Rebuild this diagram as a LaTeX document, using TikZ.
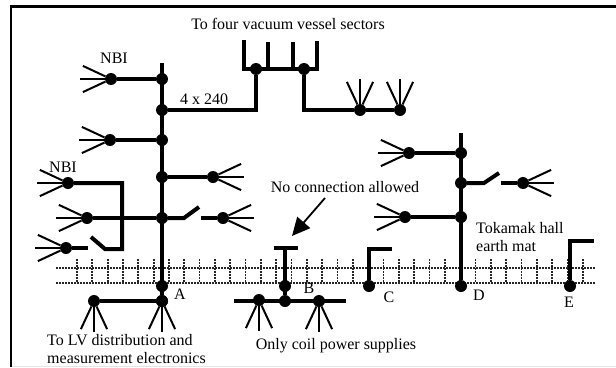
\documentclass[tikz,border=0pt]{standalone}
\usepackage{fontspec}
\setmainfont{Liberation Serif}
\usetikzlibrary{arrows.meta}
\tikzset{
	node_dot/.style = {
		circle,
		fill=black,
		inner sep=0pt,
		minimum size=12pt
	},
	node_label/.style = {
		align=left,
		inner sep=0pt,
		font=\fontsize{16}{18}\selectfont
	},
	wire_thick/.style = {
		line width=4pt,
		line cap=butt,
		line join=miter
	},
	wire_thin/.style = {
		line width=2pt
	},
	mesh_line/.style = {
		line width=1.7pt,
		dash pattern=on 1.6pt off 1.4pt,
		black!85
	},
}
\newcommand{\fan}[4]{
	\node [node_dot] (#1) at (#2,#3) {};
	\path (#1) ++(#4-25:31) coordinate (#1_a);
	\path (#1) ++(#4:31) coordinate (#1_b);
	\path (#1) ++(#4+25:31) coordinate (#1_c);
	\draw [wire_thin] (#1) -- (#1_a);
	\draw [wire_thin] (#1) -- (#1_b);
	\draw [wire_thin] (#1) -- (#1_c);
}
\begin{document}
\begin{tikzpicture}[x=1pt,y=-1pt]
\useasboundingbox (0,0) rectangle (616,367);
\draw [black!10, line width=1pt] (11,366) -- (616,366);
\draw [line width=2.2pt] (11,367) -- (11,6.5) -- (616,6.5);

\coordinate (mesh_al) at (56,268);
\coordinate (mesh_ar) at (595,268);
\coordinate (mesh_bl) at (56,283);
\coordinate (mesh_br) at (595,283);
\draw [mesh_line] (mesh_al) -- (mesh_ar);
\draw [mesh_line] (mesh_bl) -- (mesh_br);
\foreach \k in {0,...,33}
	\draw [mesh_line] ({77+15.33*\k},259) -- ({77+15.33*\k},283);

\coordinate (a_top) at (162,63);
\node [node_dot] (a1) at (162,79) {};
\node [node_dot] (a2) at (162,110) {};
\node [node_dot] (a3) at (162,140) {};
\node [node_dot] (a4) at (162,177) {};
\node [node_dot] (a5) at (162,218) {};
\node [node_dot] (a6) at (162,286) {};
\node [node_dot] (a7) at (162,301) {};
\draw [wire_thick] (a_top) -- (a7);

\fan{nbi_1}{111}{79}{180}
\fan{nbi_2}{110}{140}{180}
\fan{nbi_3}{213}{177}{0}
\fan{nbi_4}{68}{183}{180}
\fan{nbi_5}{87}{218}{180}
\fan{nbi_6}{223}{218}{0}
\fan{nbi_7}{66}{248}{180}
\draw [wire_thick] (a1) -- (nbi_1);
\draw [wire_thick] (a3) -- (nbi_2);
\draw [wire_thick] (a4) -- (nbi_3);
\draw [wire_thick] (a5) -- (nbi_5);

\coordinate (sw_a) at (184,218);
\coordinate (sw_b) at (199,207);
\coordinate (sw_c) at (201,218);
\draw [wire_thick] (a5) -- (sw_a) -- (sw_b);
\draw [wire_thick] (sw_c) -- (nbi_6);

\coordinate (sw_d) at (122,183);
\coordinate (sw_e) at (122,249);
\coordinate (sw_f) at (105,249);
\coordinate (sw_g) at (91,237);
\coordinate (sw_h) at (88,248);
\draw [wire_thick] (nbi_4) -- (sw_d) -- (sw_e) -- (sw_f) -- (sw_g);
\draw [wire_thick] (nbi_7) -- (sw_h);

\node [node_dot] (v1) at (256,69) {};
\node [node_dot] (v2) at (304,69) {};
\coordinate (v_a) at (244,40);
\coordinate (v_b) at (244,69);
\coordinate (v_c) at (268,42);
\coordinate (v_d) at (268,69);
\coordinate (v_e) at (293,42);
\coordinate (v_f) at (293,69);
\coordinate (v_g) at (317,69);
\coordinate (v_h) at (317,41);
\draw [wire_thick] (v_a) -- (v_b) -- (v_g) -- (v_h);
\draw [wire_thick] (v_c) -- (v_d);
\draw [wire_thick] (v_e) -- (v_f);
\draw [wire_thick] (a2) -| (v1);

\fan{up_1}{360}{110}{-90}
\fan{up_2}{400}{110}{-90}
\draw [wire_thick] (v2) |- (up_1);
\draw [wire_thick] (up_1) -- (up_2);

\fan{lv_1}{94}{301}{90}
\fan{lv_2}{162}{301}{90}
\draw [wire_thick] (lv_1) -- (a7);

\coordinate (b_l) at (274,248);
\coordinate (b_r) at (298,248);
\coordinate (b_t) at (285,248);
\node [node_dot] (b1) at (285,286) {};
\node [node_dot] (b2) at (285,301) {};
\draw [wire_thick] (b_l) -- (b_r);
\draw [wire_thick] (b_t) -- (b2);
\coordinate (bus_l) at (234,301);
\coordinate (bus_r) at (346,301);
\draw [wire_thick] (bus_l) -- (bus_r);
\fan{ps_1}{259}{300}{90}
\fan{ps_2}{319}{301}{90}

\coordinate (arrow_s) at (325,198);
\coordinate (arrow_e) at (292,236);
\draw [-{Triangle[length=18pt,width=17pt]}, line width=1.8pt] (arrow_s) -- (arrow_e);

\node [node_dot] (c1) at (369,286) {};
\coordinate (c_a) at (369,249);
\coordinate (c_b) at (392,249);
\draw [wire_thick] (c1) -- (c_a) -- (c_b);

\coordinate (d_top) at (461,133);
\node [node_dot] (d1) at (461,153) {};
\node [node_dot] (d2) at (461,183) {};
\node [node_dot] (d3) at (461,217) {};
\node [node_dot] (d4) at (461,286) {};
\draw [wire_thick] (d_top) -- (d4);
\fan{d_1}{409}{153}{180}
\fan{d_2}{405}{217}{180}
\fan{d_3}{523}{183}{0}
\draw [wire_thick] (d1) -- (d_1);
\draw [wire_thick] (d3) -- (d_2);
\coordinate (d_a) at (484,183);
\coordinate (d_b) at (499,173);
\coordinate (d_c) at (501,183);
\draw [wire_thick] (d2) -- (d_a) -- (d_b);
\draw [wire_thick] (d_c) -- (d_3);

\node [node_dot] (e1) at (570,286) {};
\coordinate (e_a) at (570,241);
\coordinate (e_b) at (594,241);
\draw [wire_thick] (e1) -- (e_a) -- (e_b);

\node [node_label] (lbl_top) at (288,24) {To four vacuum vessel sectors};
\node [node_label] (lbl_nbi1) at (114,58) {NBI};
\node [node_label] (lbl_nbi2) at (63,167) {NBI};
\node [node_label] (lbl_cable) at (204,99) {4 x 240};
\node [node_label] (lbl_none) at (345,187) {No connection allowed};
\node [node_label, anchor=west] (lbl_hall) at (476,237) {Tokamak hall\\earth mat};
\node [node_label, anchor=west] (lbl_lv) at (47,349) {To LV distribution and\\measurement electronics};
\node [node_label] (lbl_only) at (336,346) {Only coil power supplies};
\node [node_label] (lbl_a) at (180,294) {A};
\node [node_label] (lbl_b) at (309,288) {B};
\node [node_label] (lbl_c) at (389,297) {C};
\node [node_label] (lbl_d) at (479,295) {D};
\node [node_label] (lbl_e) at (569,302) {E};
\end{tikzpicture}
\end{document}
